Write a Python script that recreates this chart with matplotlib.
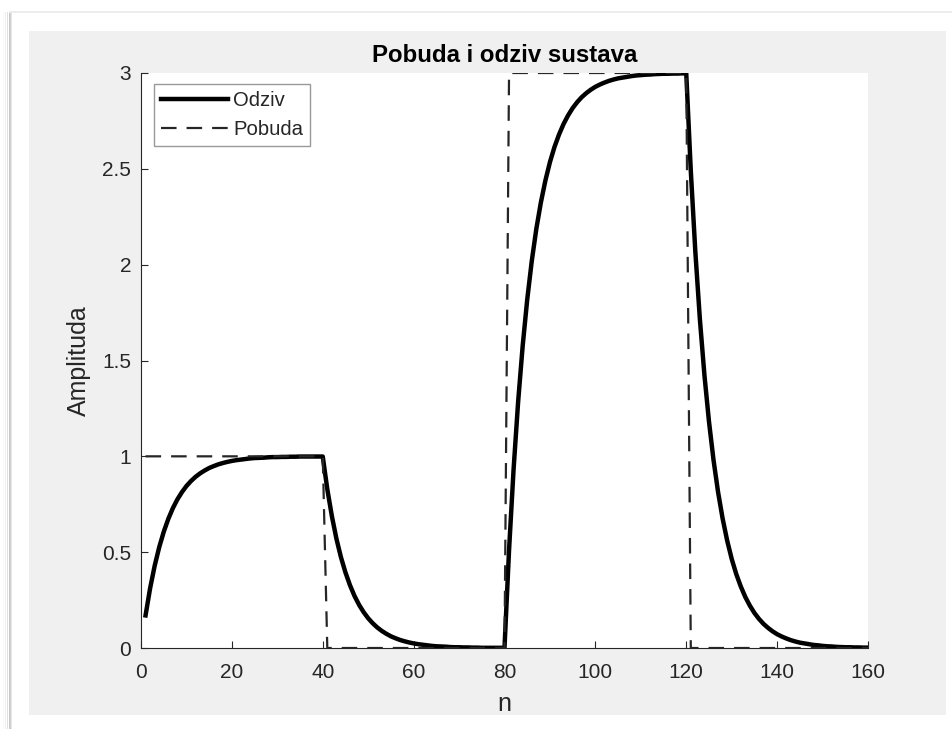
import numpy as np
import matplotlib
matplotlib.use("Agg")
import matplotlib.pyplot as plt
from matplotlib.patches import Rectangle

plt.rcParams['font.family'] = ['Liberation Sans', 'DejaVu Sans']

# excitation (pobuda) and response (odziv), samples n = 1..160
n = np.arange(1, 161)
pobuda = [1] * 40 + [0] * 40 + [3] * 40 + [0] * 40
odziv = [
    # n = 1..40
    0.170, 0.311, 0.428, 0.525, 0.606, 0.673, 0.729, 0.775, 0.813, 0.845,
    0.871, 0.893, 0.911, 0.926, 0.939, 0.949, 0.958, 0.965, 0.971, 0.976,
    0.980, 0.983, 0.986, 0.989, 0.991, 0.992, 0.993, 0.995, 0.996, 0.996,
    0.997, 0.997, 0.998, 0.998, 0.999, 0.999, 0.999, 0.999, 0.999, 0.999,
    # n = 41..80
    0.829, 0.689, 0.571, 0.474, 0.394, 0.327, 0.271, 0.225, 0.187, 0.155,
    0.129, 0.107, 0.089, 0.074, 0.061, 0.051, 0.042, 0.035, 0.029, 0.024,
    0.020, 0.017, 0.014, 0.011, 0.009, 0.008, 0.007, 0.005, 0.004, 0.004,
    0.003, 0.003, 0.002, 0.002, 0.001, 0.001, 0.001, 0.001, 0.001, 0.001,
    # n = 81..120
    0.510, 0.933, 1.285, 1.576, 1.818, 2.019, 2.186, 2.324, 2.439, 2.535,
    2.614, 2.679, 2.734, 2.779, 2.817, 2.848, 2.874, 2.895, 2.913, 2.928,
    2.940, 2.950, 2.959, 2.966, 2.972, 2.976, 2.980, 2.984, 2.987, 2.989,
    2.991, 2.992, 2.994, 2.995, 2.996, 2.996, 2.997, 2.997, 2.998, 2.998,
    # n = 121..160
    2.490, 2.067, 1.715, 1.424, 1.182, 0.981, 0.814, 0.676, 0.561, 0.465,
    0.386, 0.321, 0.266, 0.221, 0.183, 0.152, 0.126, 0.105, 0.087, 0.072,
    0.060, 0.050, 0.041, 0.034, 0.028, 0.024, 0.020, 0.016, 0.014, 0.011,
    0.009, 0.008, 0.006, 0.005, 0.004, 0.004, 0.003, 0.003, 0.002, 0.002,
]
x_ticks = [0, 20, 40, 60, 80, 100, 120, 140, 160]
y_ticks = [0, 0.5, 1, 1.5, 2, 2.5, 3]
y_ticklabels = ['0', '0.5', '1', '1.5', '2', '2.5', '3']

W, H = 953, 729
fig = plt.figure(figsize=(W / 100, H / 100), dpi=100)
fig.patch.set_facecolor('white')

# window frame / shadow and grey figure panel (pixel coords -> figure fraction)
def px(x0, y0, x1, y1):
    return (x0 / W, 1 - y1 / H, (x1 - x0) / W, (y1 - y0) / H)

def bg_rect(x0, y0, x1, y1, c):
    l, b, w, h = px(x0, y0, x1, y1)
    fig.add_artist(Rectangle((l, b), w, h, transform=fig.transFigure,
                             facecolor=c, edgecolor='none', zorder=-10))

for xs, c in [(3, '#f7f7f7'), (5, '#eeeeee'), (7, '#e0e0e0'), (9, '#c8c8c8'), (10, '#d0d0d0'), (11, '#e6e6e6')]:
    bg_rect(xs, 12, xs + 1, H, c)
bg_rect(9, 11, W, 13, '#ececec')
bg_rect(29, 31, 946, 715, '#f0f0f0')

ax = fig.add_axes(px(141, 73, 868, 648))
ax.set_facecolor('white')

ax.plot(n, odziv, color='black', lw=3.2, label='Odziv', solid_joinstyle='round')
ax.plot(n, pobuda, color='#262626', lw=1.6, dashes=(7, 4.5), label='Pobuda')

ax.set_xlim(0, 160)
ax.set_ylim(0, 3)
ax.set_xticks(x_ticks)
ax.set_yticks(y_ticks)
ax.set_yticklabels(y_ticklabels)

for s in ['top', 'right']:
    ax.spines[s].set_visible(False)
for s in ['left', 'bottom']:
    ax.spines[s].set_color('#262626')
    ax.spines[s].set_linewidth(0.8)
ax.tick_params(direction='in', length=5, width=0.8, color='#262626',
               labelcolor='#262626', labelsize=15)
ax.tick_params(axis='x', pad=11)
ax.tick_params(axis='y', pad=7)

ax.set_title('Pobuda i odziv sustava', fontsize=17.3, fontweight='bold',
             color='black', pad=8)
ax.set_xlabel('n', fontsize=18, color='#262626', labelpad=7)
ax.set_ylabel('Amplituda', fontsize=18, color='#262626', labelpad=8)

leg = ax.legend(loc='upper left', bbox_to_anchor=(0.018, 0.981), fontsize=14.6,
                handlelength=3.3, handletextpad=0.25, labelspacing=0.5,
                borderpad=0.35, borderaxespad=0, fancybox=False, framealpha=1)
leg.get_frame().set_edgecolor('#999999')
leg.get_frame().set_linewidth(1.0)
for t in leg.get_texts():
    t.set_color('#262626')

fig.savefig('out.png', dpi=100, facecolor=fig.get_facecolor())
